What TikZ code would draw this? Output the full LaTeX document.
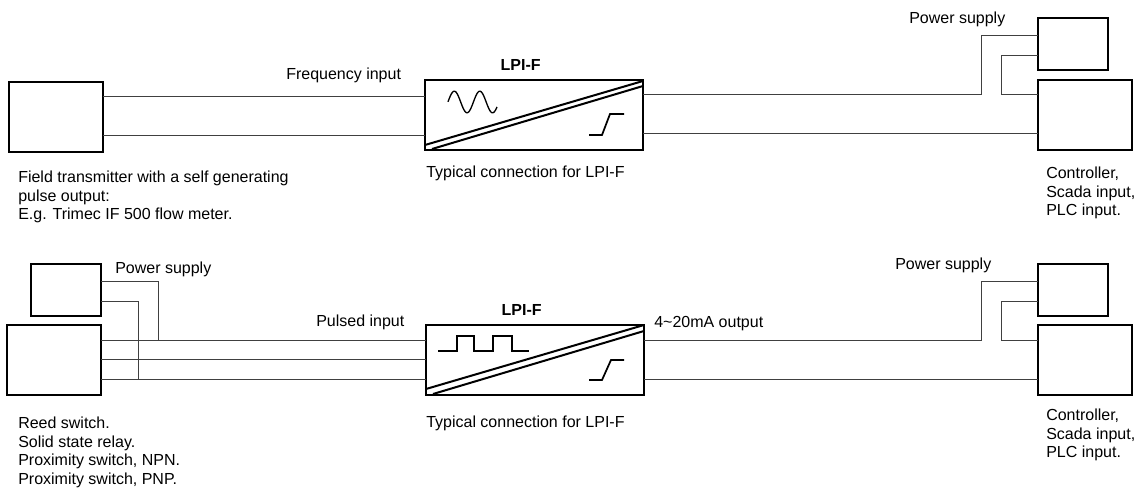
\documentclass[tikz,border=0pt]{standalone}
\usepackage{fontspec}
\setmainfont{Liberation Sans}
\usetikzlibrary{calc}
\usetikzlibrary{positioning}
\tikzset{
  bigbox/.style={draw=black, line width=1.5pt, minimum width=70.5pt, minimum height=52.5pt, inner sep=0pt, outer sep=0pt},
  smallbox/.style={draw=black, line width=1.5pt, minimum width=52.5pt, minimum height=39pt, inner sep=0pt, outer sep=0pt},
  lpibox/.style={draw=black, line width=1.6pt, minimum width=163.5pt, minimum height=52.5pt, inner sep=0pt, outer sep=0pt},
  wire/.style={draw=black!75, line width=0.75pt},
  lpiline/.style={black, line width=1.5pt},
  caption/.style={anchor=west, inner sep=0pt, align=left, font=\fontsize{12}{13.9}\selectfont},
  lpititle/.style={inner sep=0pt, xshift=-10pt, font=\fontsize{12}{14}\selectfont\bfseries}
}
\begin{document}
\begin{tikzpicture}[x=0.75pt, y=-0.75pt]
  \useasboundingbox (0,0) rectangle (1140,488);
  % top row
  \node[bigbox] (fieldtx) at (55.5,117) {};
  \node[lpibox] (lpitop) at (534,115) {};
  \node[smallbox] (supplytop) at (1072.5,44.5) {};
  \node[bigbox] (ctrltop) at (1085,115) {};
  \coordinate (rowa) at (0,97);
  \coordinate (rowb) at (0,136);
  \draw[wire] (fieldtx.east |- rowa) -- (lpitop.west |- rowa);
  \draw[wire] (fieldtx.east |- rowb) -- (lpitop.west |- rowb);
  \draw[wire] (lpitop.east |- 0,95) -| (981,36) -- (supplytop.west |- 0,36);
  \draw[wire] (lpitop.east |- 0,134) -- (ctrltop.west |- 0,134);
  \draw[wire] (supplytop.west |- 0,56) -| (1001,95) -- (ctrltop.west |- 0,95);
  \draw[lpiline] (lpitop.west |- 0,145) -- (lpitop.east |- 0,81);
  \draw[lpiline] ($(lpitop.south west)+(7,-1)$) -- (lpitop.east |- 0,86);
  \draw[black, line width=1pt, domain=448:497, samples=60, smooth] plot (\x,{102-10.8*cos((\x-454.3)*14.12)});
  \draw[lpiline, line width=1.3pt] (589,135) -- (602,135) -- (610,114) -- (624,114);
  \node[lpititle, above=7pt of lpitop] (titletop) {LPI-F};
  \node[caption] (freqlabel) at (286,75) {Frequency input};
  \node[caption] (supplylabeltop) at (909,19) {Power supply};
  \node[caption] (typtop) at (426,173) {Typical connection for LPI-F};
  \node[caption, anchor=north west] (fieldtext) at (18,171) {Field transmitter with a self generating\\pulse output:\\E.g. Trimec IF 500 flow meter.};
  \node[caption, anchor=north west] (ctrltexttop) at (1046,167) {Controller,\\Scada input,\\PLC input.};
  % bottom row
  \node[smallbox] (supplyin) at (66,290) {};
  \node[bigbox] (reedsw) at (54,360) {};
  \node[lpibox] (lpibot) at (535,360) {};
  \node[smallbox] (supplybot) at (1073,290) {};
  \node[bigbox] (ctrlbot) at (1085,360) {};
  \coordinate (rowc) at (0,341);
  \coordinate (rowd) at (0,360);
  \coordinate (rowe) at (0,380);
  \draw[wire] (reedsw.east |- rowc) -- (lpibot.west |- rowc);
  \draw[wire] (reedsw.east |- rowd) -- (lpibot.west |- rowd);
  \draw[wire] (reedsw.east |- rowe) -- (lpibot.west |- rowe);
  \draw[wire] (supplyin.east |- 0,282) -| (158,341);
  \draw[wire] (supplyin.east |- 0,302) -| (138,380);
  \draw[wire] (lpibot.east |- rowc) -| (981,282) -- (supplybot.west |- 0,282);
  \draw[wire] (lpibot.east |- rowe) -- (ctrlbot.west |- rowe);
  \draw[wire] (supplybot.west |- 0,302) -| (1001,341) -- (ctrlbot.west |- rowc);
  \draw[lpiline] (lpibot.west |- 0,389) -- (lpibot.east |- 0,325);
  \draw[lpiline] ($(lpibot.south west)+(7,-1)$) -- (lpibot.east |- 0,331);
  \draw[lpiline, line width=1.3pt] (438,351) -- (457,351) -- (457,336) -- (474,336) -- (474,351) -- (493,351) -- (493,336) -- (512,336) -- (512,351) -- (529,351);
  \draw[lpiline, line width=1.3pt] (589,380) -- (602,380) -- (611,360) -- (624,360);
  \node[lpititle, above=7pt of lpibot] (titlebot) {LPI-F};
  \node[caption] (supplylabelin) at (115,269) {Power supply};
  \node[caption] (pulselabel) at (316,322) {Pulsed input};
  \node[caption] (outlabel) at (654,324) {4\textasciitilde20mA output};
  \node[caption] (supplylabelbot) at (895,265) {Power supply};
  \node[caption] (typbot) at (426,423) {Typical connection for LPI-F};
  \node[caption, anchor=north west] (reedtext) at (18,417) {Reed switch.\\Solid state relay.\\Proximity switch, NPN.\\Proximity switch, PNP.};
  \node[caption, anchor=north west] (ctrltextbot) at (1046,409) {Controller,\\Scada input,\\PLC input.};
\end{tikzpicture}
\end{document}
